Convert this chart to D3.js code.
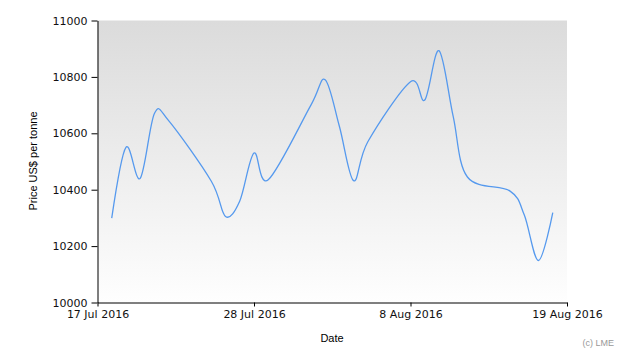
<!DOCTYPE html>
<html lang="en">
<head>
    <meta charset="utf-8">
    <title>LME price</title>
    <style>
        body { margin: 0; background: #fff; }
        .tick text { font-family: "DejaVu Sans", sans-serif; font-size: 11px; fill: #111; }
        .axis path, .axis line { stroke: #000; }
        .line { fill: none; stroke: #5599ee; stroke-width: 1.3px; }
    </style>
    <script src="https://d3js.org/d3.v7.min.js"></script>
</head>
<body>
<div id="chart"></div>
<script>
// trading days and prices (US$ per tonne)
var dates = ["2016-07-18","2016-07-19","2016-07-20","2016-07-21","2016-07-22",
             "2016-07-25","2016-07-26","2016-07-27","2016-07-28","2016-07-29",
             "2016-08-01","2016-08-02","2016-08-03","2016-08-04","2016-08-05",
             "2016-08-08","2016-08-09","2016-08-10","2016-08-11","2016-08-12",
             "2016-08-15","2016-08-16","2016-08-17","2016-08-18"];
var prices = [10299, 10550, 10440, 10670, 10645,
              10430, 10305, 10360, 10530, 10435,
              10700, 10790, 10625, 10432, 10570,
              10783, 10718, 10893, 10660, 10445,
              10395, 10310, 10149, 10319];
var xTicks = ["2016-07-17", "2016-07-28", "2016-08-08", "2016-08-19"];
var yTicks = [10000, 10200, 10400, 10600, 10800, 11000];

var width = 630, height = 360;
var parse = d3.timeParse("%Y-%m-%d");
var data = dates.map(function(d, i) { return { date: parse(d), price: prices[i] }; });

var svg = d3.select("#chart").append("svg")
    .attr("width", width)
    .attr("height", height);

var x = d3.scaleTime()
    .domain([parse(xTicks[0]), parse(xTicks[xTicks.length - 1])])
    .range([97.5, 567]);
var y = d3.scaleLinear()
    .domain([10000, 11000])
    .range([302.5, 20.5]);

// background gradient
var grad = svg.append("defs").append("linearGradient")
    .attr("id", "bg")
    .attr("x1", 0).attr("y1", 0).attr("x2", 0).attr("y2", 1);
grad.append("stop").attr("offset", "0%").attr("stop-color", "#dbdbdb");
grad.append("stop").attr("offset", "100%").attr("stop-color", "#fefefe");

svg.append("rect")
    .attr("x", x.range()[0])
    .attr("y", y.range()[1])
    .attr("width", x.range()[1] - x.range()[0])
    .attr("height", y.range()[0] - y.range()[1])
    .attr("fill", "url(#bg)");

// the line
var valueline = d3.line()
    .curve(d3.curveCardinal)
    .x(function(d) { return x(d.date); })
    .y(function(d) { return y(d.price); });

svg.append("path")
    .datum(data)
    .attr("class", "line")
    .attr("d", valueline);

// x axis
svg.append("g")
    .attr("class", "axis")
    .attr("transform", "translate(0," + y.range()[0] + ")")
    .call(d3.axisBottom(x)
        .tickValues(xTicks.map(parse))
        .tickSize(4)
        .tickSizeOuter(0)
        .tickPadding(4)
        .tickFormat(d3.timeFormat("%-d %b %Y")));

// y axis
svg.append("g")
    .attr("class", "axis")
    .attr("transform", "translate(" + x.range()[0] + ",0)")
    .call(d3.axisLeft(y)
        .tickValues(yTicks)
        .tickSize(6)
        .tickSizeOuter(0)
        .tickPadding(4)
        .tickFormat(d3.format("d")));

// titles
svg.append("text")
    .attr("transform", "translate(37,161) rotate(-90)")
    .style("text-anchor", "middle")
    .style("font-family", "'Liberation Sans', Arial, sans-serif")
    .style("font-size", "11px")
    .style("fill", "#000")
    .text("Price US$ per tonne");

svg.append("text")
    .attr("x", 332)
    .attr("y", 342)
    .style("text-anchor", "middle")
    .style("font-family", "'Liberation Sans', Arial, sans-serif")
    .style("font-size", "11px")
    .style("fill", "#000")
    .text("Date");

svg.append("text")
    .attr("x", 614)
    .attr("y", 346)
    .style("text-anchor", "end")
    .style("font-family", "'Liberation Sans', Arial, sans-serif")
    .style("font-size", "9px")
    .style("fill", "#999")
    .text("(c) LME");
</script>
</body>
</html>
